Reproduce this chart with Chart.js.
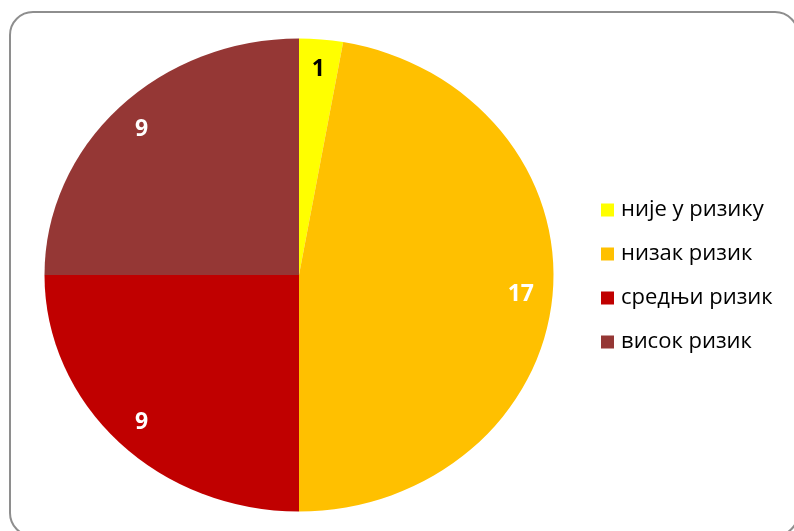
<!DOCTYPE html>
<html>
<head>
<meta charset="utf-8">
<script src="https://cdn.jsdelivr.net/npm/chart.js@4/dist/chart.umd.min.js"></script>
<style>
  html, body { margin: 0; padding: 0; background: #fff; overflow: hidden; }
  #wrap { position: relative; width: 794px; height: 531px; overflow: hidden; }
  #frame { position: absolute; left: 9px; top: 11px; width: 790px; height: 526px;
           border: 2px solid #8e8e8e; border-radius: 24px; box-sizing: border-box; }
  canvas { position: absolute; left: 0; top: 0; }
</style>
</head>
<body>
<div id="wrap">
  <div id="frame"></div>
  <canvas id="c" width="794" height="531"></canvas>
</div>
<script>
// Risk categories and the number of cases in each
const categories = ['није у ризику', 'низак ризик', 'средњи ризик', 'висок ризик'];
const counts = [1, 17, 9, 9];
const sliceColors = ['#FFFF00', '#FFC000', '#C00000', '#953735'];
const valueColors = ['#000000', '#FFFFFF', '#FFFFFF', '#FFFFFF'];

// The pie is drawn slightly flattened (an ellipse)
const RX = 254.5, RY = 236.5;
const FLAT = RY / RX;

const flatten = {
  id: 'flatten',
  beforeDatasetsDraw(chart) {
    const a = chart.getDatasetMeta(0).data[0];
    const ctx = chart.ctx;
    ctx.save();
    ctx.translate(a.x, a.y);
    ctx.scale(1, FLAT);
    ctx.translate(-a.x, -a.y);
  },
  afterDatasetsDraw(chart) {
    chart.ctx.restore();
  }
};

// Value labels inside each slice
const sliceValues = {
  id: 'sliceValues',
  afterDatasetsDraw(chart) {
    const ctx = chart.ctx;
    const ds = chart.data.datasets[0];
    ctx.save();
    ctx.font = 'bold 23px "Open Sans", sans-serif';
    ctx.textAlign = 'center';
    ctx.textBaseline = 'middle';
    chart.getDatasetMeta(0).data.forEach((arc, i) => {
      const mid = (arc.startAngle + arc.endAngle) / 2;
      const r = arc.outerRadius * 0.875;
      const x = arc.x + Math.cos(mid) * r;
      const y = arc.y + Math.sin(mid) * r * FLAT + 1;
      ctx.fillStyle = valueColors[i];
      ctx.fillText(String(ds.data[i]), x, y);
    });
    ctx.restore();
  }
};

// Legend at the right
const sideLegend = {
  id: 'sideLegend',
  afterDraw(chart) {
    const ctx = chart.ctx;
    ctx.save();
    ctx.font = '22px "Open Sans", sans-serif';
    ctx.textAlign = 'left';
    ctx.textBaseline = 'middle';
    chart.data.labels.forEach((lab, i) => {
      const y = 210 + i * 44;
      ctx.fillStyle = sliceColors[i];
      ctx.fillRect(601, y - 6.5, 13, 13);
      ctx.fillStyle = '#000000';
      ctx.fillText(lab, 621, y);
    });
    ctx.restore();
  }
};

new Chart(document.getElementById('c'), {
  type: 'pie',
  data: {
    labels: categories,
    datasets: [{
      data: counts,
      backgroundColor: sliceColors,
      borderWidth: 0,
      clip: false
    }]
  },
  options: {
    responsive: false,
    animation: false,
    radius: RX,
    layout: { padding: { left: 0, right: 196, top: 19, bottom: 0 } },
    plugins: {
      legend: { display: false },
      tooltip: { enabled: false }
    }
  },
  plugins: [flatten, sliceValues, sideLegend]
});
</script>
</body>
</html>
